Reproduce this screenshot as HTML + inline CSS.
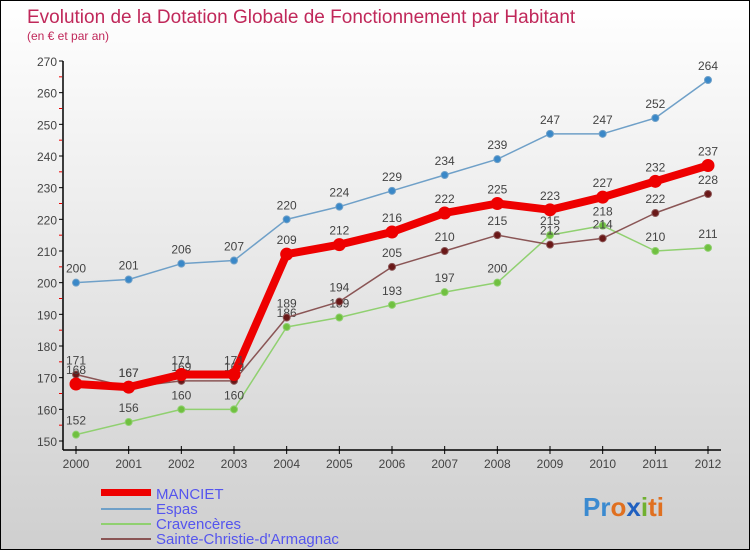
<!DOCTYPE html>
<html><head><meta charset="utf-8"><style>
body{margin:0}
#c{width:750px;height:550px;position:relative;overflow:hidden;box-sizing:border-box;border:1px solid #000;background:linear-gradient(#fff,#cfcfcf);font-family:"Liberation Sans",sans-serif}
</style></head><body>
<div id="c">
<svg id="s" width="750" height="550" style="position:absolute;left:0;top:0" font-family="Liberation Sans, sans-serif">
<text x="26" y="22" font-size="19" fill="#c0285a">Evolution de la Dotation Globale de Fonctionnement par Habitant</text>
<text x="26" y="39" font-size="12" fill="#c0285a">(en € et par an)</text>
<g id="axes"></g><g id="series"></g>
<g font-size="15" fill="#5555ee">
<rect x="100" y="488" width="50" height="7" fill="#e00"/>
<text x="155" y="498">MANCIET</text>
<rect x="100" y="507" width="50" height="2" fill="#6fa0c8"/>
<text x="155" y="513">Espas</text>
<rect x="100" y="522" width="50" height="2" fill="#90d070"/>
<text x="155" y="528">Cravencères</text>
<rect x="100" y="537" width="50" height="2" fill="#8a5555"/>
<text x="155" y="543">Sainte-Christie-d'Armagnac</text>
</g>
<text x="582" y="515" font-size="26" font-weight="bold"><tspan fill="#3a8ad0">Pr</tspan><tspan fill="#e07020">o</tspan><tspan fill="#2060c0">x</tspan><tspan fill="#70b030">i</tspan><tspan fill="#e07020">ti</tspan></text>
</svg>
</div>
<script>
const years=[2000,2001,2002,2003,2004,2005,2006,2007,2008,2009,2010,2011,2012];
const yTicks=[150,160,170,180,190,200,210,220,230,240,250,260,270];
const manciet=[168,167,171,171,209,212,216,222,225,223,227,232,237];
const espas=[200,201,206,207,220,224,229,234,239,247,247,252,264];
const cravenceres=[152,156,160,160,186,189,193,197,200,215,218,210,211];
const sainte=[171,167,169,169,189,194,205,210,215,212,214,222,228];
const NS="http://www.w3.org/2000/svg";
const X=i=>75+i*(707-75)/(years.length-1);
const Y=v=>440-(v-150)*(380/120);
function mk(t,a,p){const e=document.createElementNS(NS,t);for(const k in a)e.setAttribute(k,a[k]);p.appendChild(e);return e;}
const ax=document.getElementById('axes');
let e=mk('line',{x1:62,y1:60,x2:62,y2:449,stroke:'#000','stroke-width':1.5},ax);


e=mk('line',{x1:62,y1:449,x2:720,y2:449,stroke:'#000','stroke-width':1.5},ax);


yTicks.forEach(v=>{
 mk('line',{x1:58,y1:Y(v),x2:62,y2:Y(v),stroke:'#000'},ax);
 if(v<270)mk('line',{x1:58,y1:Y(v+5),x2:61,y2:Y(v+5),stroke:'#e00'},ax);
 const t=mk('text',{x:56,y:Y(v)+5,'text-anchor':'end','font-size':12,fill:'#444'},ax);t.textContent=v;
 
 
});
years.forEach((y,i)=>{
 mk('line',{x1:X(i),y1:445,x2:X(i),y2:453,stroke:'#000'},ax);
 const t=mk('text',{x:X(i),y:467,'text-anchor':'middle','font-size':12,fill:'#444'},ax);t.textContent=y;
 
 
});
const sg=document.getElementById('series');
function series(vals,name,color,w,r,dot){
 const g=mk('g',{},sg);
 
 
 mk('polyline',{points:vals.map((v,i)=>X(i)+','+Y(v)).join(' '),fill:'none',stroke:color,'stroke-width':w,'stroke-linejoin':'round'},g);
 vals.forEach((v,i)=>{
  const c=mk('circle',{cx:X(i),cy:Y(v),r:r,fill:dot,stroke:color,'stroke-width':1},g);
  
  
  const t=mk('text',{x:X(i),y:Y(v)-10,'text-anchor':'middle','font-size':12,fill:'#444'},g);t.textContent=v;
  
  
 });
}
series(espas,'espas','#6fa0c8',1.5,3.5,'#3a88c8');
series(cravenceres,'cravenceres','#90d070',1.5,3.5,'#70c040');
series(sainte,'sainte-christie','#8a5555',1.5,3.5,'#6a1818');
series(manciet,'manciet','#ee0000',8,6,'#ee0000');
</script>
</body></html>
